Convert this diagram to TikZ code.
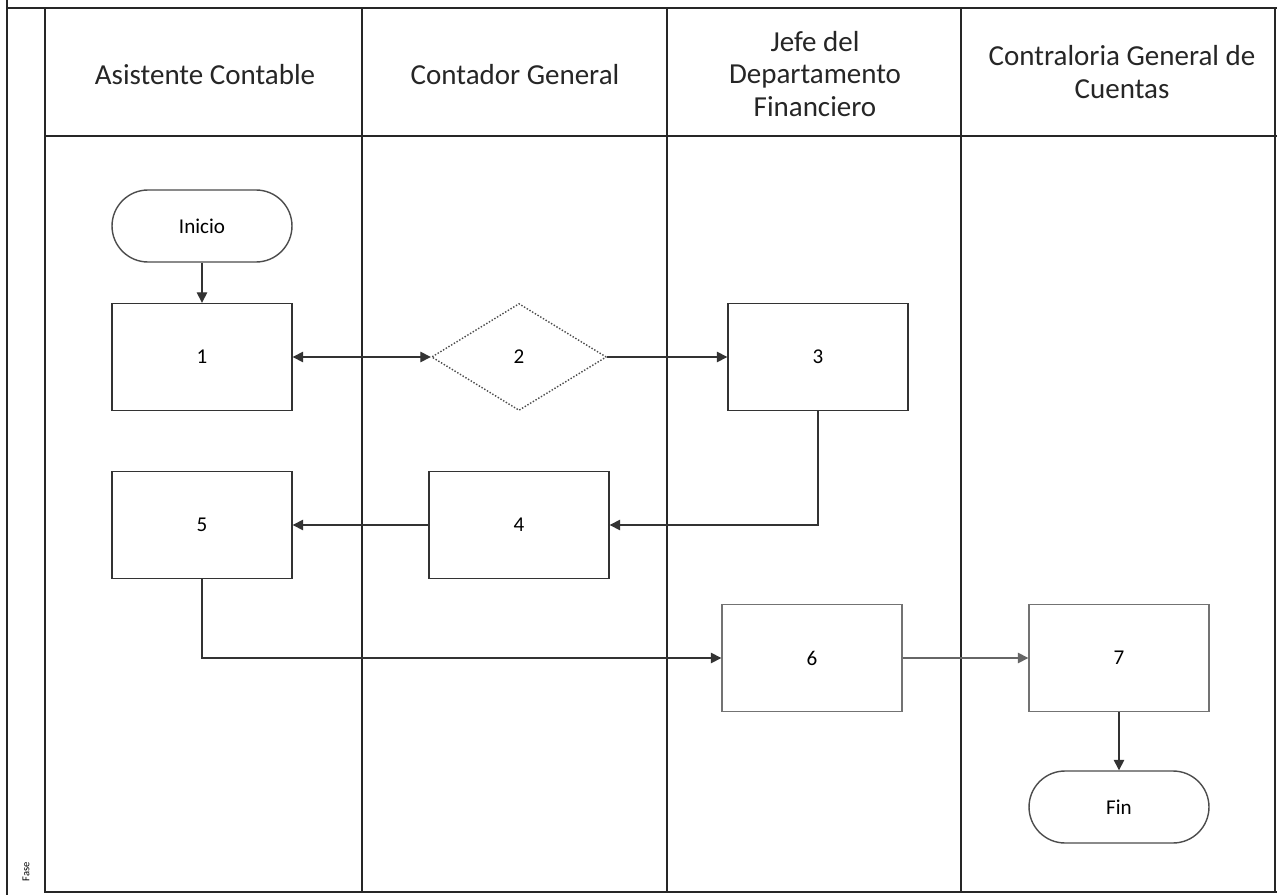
\documentclass[tikz,border=0pt]{standalone}
\usepackage{fontspec}
\setmainfont{Carlito}
\usetikzlibrary{arrows.meta,shapes.geometric}
\begin{document}
\begin{tikzpicture}[x=0.02cm,y=-0.02cm,
  frame/.style={line width=1.1pt,draw=black!85},
  lane/.style={line width=1pt,draw=black!85},
  proc/.style={draw=black!80,line width=0.8pt,minimum width=3.6cm,minimum height=2.14cm,inner sep=0pt,font=\fontsize{12}{14}\selectfont},
  term/.style={draw=black!70,line width=0.8pt,rounded corners=0.72cm,minimum width=3.6cm,minimum height=1.44cm,inner sep=0pt,font=\fontsize{12}{14}\selectfont},
  decis/.style={diamond,draw=black!70,line width=0.8pt,densely dotted,aspect=1.64,minimum width=3.5cm,minimum height=2.14cm,inner sep=0pt,font=\fontsize{12}{14}\selectfont},
  hdr/.style={align=center,font=\fontsize{16.5}{18.5}\selectfont,text=black!85},
  flow/.style={line width=0.8pt,draw=black!80,-{Triangle[length=6pt,width=6pt]}},
  flow2/.style={line width=0.8pt,draw=black!80,{Triangle[length=6pt,width=6pt]}-{Triangle[length=6pt,width=6pt]}}
]
\useasboundingbox (0,0) rectangle (1277,895);
\fill[white] (0,0) rectangle (1277,895);
% frame
\draw[frame] (7,0) -- (7,895);
\draw[frame] (7,8) -- (1277,8);
\draw[frame] (45,8) -- (45,893);
\draw[frame] (45,136) -- (1277,136);
\draw[frame] (45,892) -- (1277,892);
\draw[lane] (362,8) -- (362,893);
\draw[lane] (667,8) -- (667,893);
\draw[lane] (961,8) -- (961,893);
\draw[lane] (1275,8) -- (1275,893);
% headers
\node[hdr] (h1) at (205,75) {Asistente Contable};
\node[hdr] (h2) at (515,75) {Contador General};
\node[hdr] (h3) at (815,74) {Jefe del\\Departamento\\Financiero};
\node[hdr] (h4) at (1122,72) {Contraloria General de\\Cuentas};
\node[rotate=90,font=\fontsize{6}{7}\selectfont] (fase) at (26,872) {Fase};
% nodes
\node[term] (ini) at (202,226) {Inicio};
\node[proc] (n1) at (202,357) {1};
\node[decis] (n2) at (519,357) {2};
\node[proc] (n3) at (818,357) {3};
\node[proc] (n4) at (519,525) {4};
\node[proc] (n5) at (202,525) {5};
\node[proc,draw=black!55] (n6) at (812,658) {6};
\node[proc,draw=black!55] (n7) at (1119,658) {7};
\node[term] (fin) at (1119,807) {Fin};
% connectors
\draw[flow] (ini) -- (n1);
\draw[flow2] (n1) -- (n2);
\draw[flow] (n2) -- (n3);
\draw[flow] (n3.south) |- (n4.east);
\draw[flow] (n4) -- (n5);
\draw[flow] (n5.south) |- (n6.west);
\draw[flow,draw=black!60] (n6) -- (n7);
\draw[flow] (n7) -- (fin);
\end{tikzpicture}
\end{document}
